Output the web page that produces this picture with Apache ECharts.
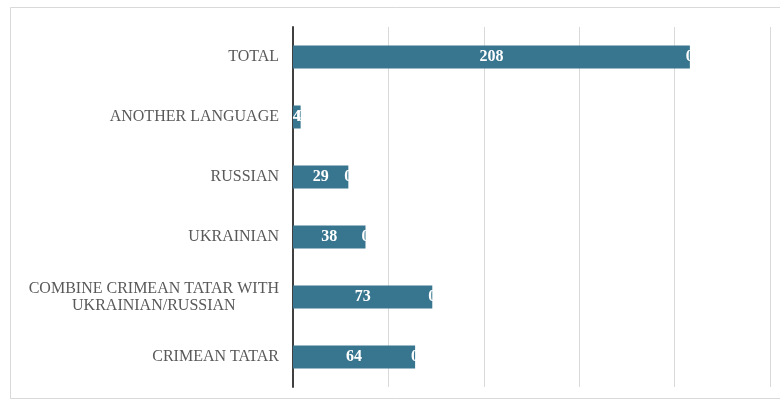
<!DOCTYPE html>
<html>
<head>
<meta charset="utf-8">
<script src="https://cdn.jsdelivr.net/npm/echarts@6/dist/echarts.min.js"></script>
<style>
  html, body { margin: 0; padding: 0; background: #fff; }
  #chart { width: 780px; height: 402px; }
</style>
</head>
<body>
<div id="chart"></div>
<script>
// Language categories, bottom to top
const categories = [
  'CRIMEAN TATAR',
  'COMBINE CRIMEAN TATAR WITH\nUKRAINIAN/RUSSIAN',
  'UKRAINIAN',
  'RUSSIAN',
  'ANOTHER LANGUAGE',
  'TOTAL'
];
// Respondent counts
const counts = [64, 73, 38, 29, 4, 208];
// Second stacked series (all zero), only its label shows at the bar end
const extra = [0, 0, 0, 0, 0, 0];

const FONT = '"Liberation Serif", "Times New Roman", serif';
const BAR = '#38758f';

const chart = echarts.init(document.getElementById('chart'), null, { renderer: 'canvas' });
chart.setOption({
  animation: false,
  backgroundColor: '#ffffff',
  graphic: [{
    type: 'rect',
    shape: { x: 10.5, y: 7.5, width: 775, height: 391 },
    style: { fill: 'none', stroke: '#d9d9d9', lineWidth: 1 },
    silent: true
  }],
  grid: { left: 293, right: 10, top: 27, bottom: 15, containLabel: false },
  xAxis: {
    type: 'value',
    min: 0,
    max: 250,
    interval: 50,
    axisLine: { show: false },
    axisTick: { show: false },
    axisLabel: { show: false },
    splitLine: { show: true, lineStyle: { color: '#d9d9d9', width: 1 } }
  },
  yAxis: {
    type: 'category',
    data: categories,
    axisLine: { show: true, lineStyle: { color: '#404040', width: 2 } },
    axisTick: { show: false },
    axisLabel: {
      margin: 14,
      color: '#595959',
      fontFamily: FONT,
      fontSize: 16,
      lineHeight: 17,
      formatter: function (v) {
        return v.split('\n').map(function (s) { return '{c|' + s + '}'; }).join('\n');
      },
      rich: {
        c: { align: 'center', color: '#595959', fontFamily: FONT, fontSize: 16, lineHeight: 17 }
      }
    }
  },
  series: [
    {
      name: 'count',
      type: 'bar',
      stack: 'total',
      data: counts,
      barWidth: 23,
      itemStyle: { color: BAR },
      label: {
        show: true,
        position: 'inside',
        color: '#ffffff',
        fontFamily: FONT,
        fontWeight: 'bold',
        fontSize: 16
      }
    },
    {
      name: 'extra',
      type: 'bar',
      stack: 'total',
      data: extra,
      barWidth: 23,
      itemStyle: { color: BAR },
      label: {
        show: true,
        position: 'inside',
        color: '#ffffff',
        fontFamily: FONT,
        fontWeight: 'bold',
        fontSize: 16,
        formatter: '{c}'
      }
    }
  ]
});
</script>
</body>
</html>
